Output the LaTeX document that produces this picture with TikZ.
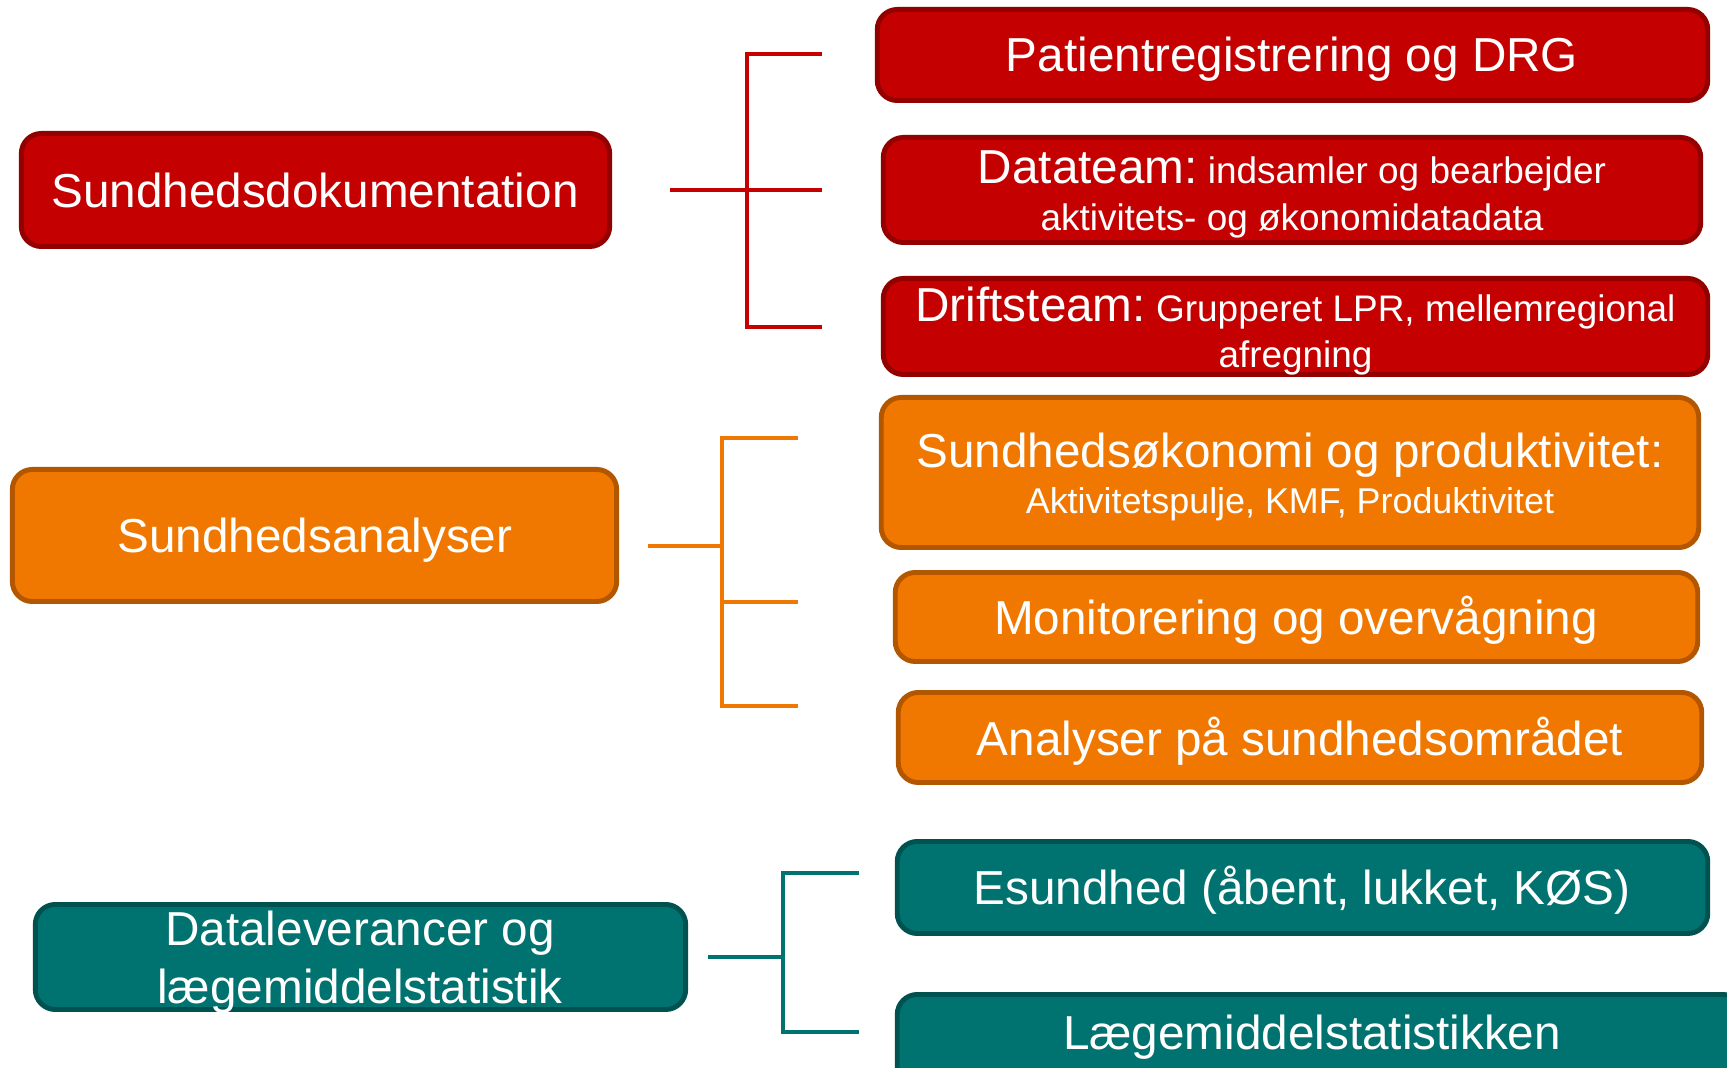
\documentclass[tikz,border=0pt]{standalone}
\usepackage{fontspec}
\setmainfont{Liberation Sans}
\definecolor{rfill}{HTML}{C40000}
\definecolor{rline}{HTML}{930000}
\definecolor{ofill}{HTML}{F07800}
\definecolor{oline}{HTML}{B35600}
\definecolor{tfill}{HTML}{007370}
\definecolor{tline}{HTML}{005250}
\tikzset{
  box/.style={rectangle, rounded corners=0.2cm, line width=1.4pt, inner sep=0pt},
  redbox/.style={box, fill=rfill, draw=rline},
  orabox/.style={box, fill=ofill, draw=oline},
  tealbox/.style={box, fill=tfill, draw=tline},
  big/.style={anchor=base, text=white, inner sep=0pt, font=\fontsize{13.55pt}{16pt}\selectfont},
  small/.style={anchor=base, text=white, inner sep=0pt, font=\fontsize{10.5pt}{13pt}\selectfont},
  conn/.style={line width=1pt}
}
\newcommand{\sm}{\fontsize{10.5pt}{13pt}\selectfont}
\begin{document}
\begin{tikzpicture}[x=0.01cm,y=-0.01cm]
\useasboundingbox (0,0) rectangle (1727,1068);
\clip (0,0) rectangle (1727,1068);

% red group
\node[redbox, minimum width=5.88cm, minimum height=1.13cm] (sd) at (315.5,190) {};
\node[big] (sdt) at (315,208) {Sundhedsdokumentation};
\node[redbox, minimum width=8.30cm, minimum height=0.91cm] (pat) at (1292.5,55) {};
\node[big] (patt) at (1292,72) {Patientregistrering og DRG};
\node[redbox, minimum width=8.17cm, minimum height=1.05cm] (dat) at (1292,190) {};
\node[big] (datt1) at (1292,184) {Datateam:{\sm\ indsamler og bearbejder}};
\node[small] (datt2) at (1292,231) {aktivitets- og økonomidatadata};
\node[redbox, minimum width=8.24cm, minimum height=0.96cm] (drf) at (1295.5,326.5) {};
\node[big] (drft1) at (1295.5,322) {Driftsteam:{\sm\ Grupperet LPR, mellemregional}};
\node[small] (drft2) at (1295.5,368) {afregning};

\coordinate (rs) at (670,190);
\coordinate (rt) at (747,54);
\coordinate (rb) at (747,327);
\coordinate (rt2) at (822,54);
\coordinate (rm2) at (822,190);
\coordinate (rb2) at (822,327);
\draw[conn, draw=rfill] (rs) -- (rm2);
\draw[conn, draw=rfill] (rt2) -- (rt) -- (rb) -- (rb2);

% orange group
\node[orabox, minimum width=6.04cm, minimum height=1.32cm] (sa) at (314.5,535.5) {};
\node[big] (sat) at (315,553) {Sundhedsanalyser};
\node[orabox, minimum width=8.17cm, minimum height=1.50cm] (so) at (1290,472.5) {};
\node[big] (sot1) at (1290,468) {Sundhedsøkonomi og produktivitet:};
\node[anchor=base, text=white, inner sep=0pt, font=\fontsize{10.2pt}{13pt}\selectfont] (sot2) at (1290,514) {Aktivitetspulje, KMF, Produktivitet};
\node[orabox, minimum width=8.02cm, minimum height=0.89cm] (mon) at (1296.5,617) {};
\node[big] (mont) at (1296,635) {Monitorering og overvågning};
\node[orabox, minimum width=8.03cm, minimum height=0.90cm] (ana) at (1300,737.5) {};
\node[big] (anat) at (1300,756) {Analyser på sundhedsområdet};

\coordinate (os) at (648,546);
\coordinate (oj) at (722,546);
\coordinate (ot) at (722,438);
\coordinate (om) at (722,602);
\coordinate (ob) at (722,706);
\coordinate (ot2) at (798,438);
\coordinate (om2) at (798,602);
\coordinate (ob2) at (798,706);
\draw[conn, draw=ofill] (os) -- (oj);
\draw[conn, draw=ofill] (ot2) -- (ot) -- (ob) -- (ob2);
\draw[conn, draw=ofill] (om) -- (om2);

% teal group
\node[tealbox, minimum width=6.50cm, minimum height=1.05cm] (dl) at (360.5,957) {};
\node[big] (dlt1) at (360,946) {Dataleverancer og};
\node[big] (dlt2) at (360,1004) {lægemiddelstatistik};
\node[tealbox, minimum width=8.10cm, minimum height=0.92cm] (es) at (1302.5,887.5) {};
\node[big] (est) at (1302,905) {Esundhed (åbent, lukket, KØS)};
\node[tealbox, minimum width=8.45cm, minimum height=0.93cm] (lm) at (1320,1041) {};
\node[big] (lmt) at (1312,1050) {Lægemiddelstatistikken};

\coordinate (ts) at (708,957);
\coordinate (tj) at (783,957);
\coordinate (tt) at (783,873);
\coordinate (tb) at (783,1032);
\coordinate (tt2) at (859,873);
\coordinate (tb2) at (859,1032);
\draw[conn, draw=tfill] (ts) -- (tj);
\draw[conn, draw=tfill] (tt2) -- (tt) -- (tb) -- (tb2);
\end{tikzpicture}
\end{document}
